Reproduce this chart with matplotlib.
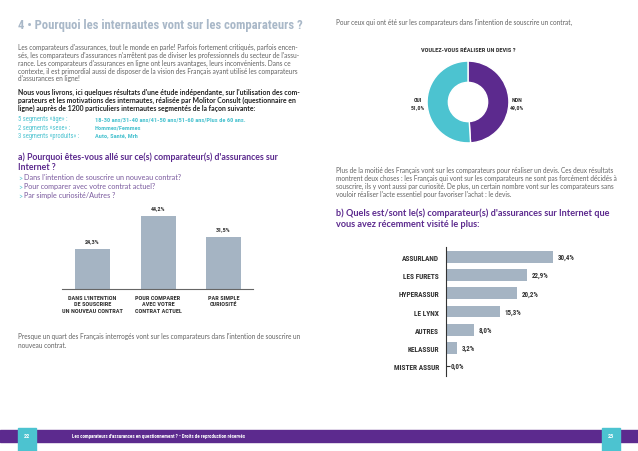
import matplotlib
matplotlib.use("Agg")
import matplotlib.pyplot as plt
from matplotlib import font_manager
import numpy as np

# ---- donnees ----
raisons = ["DANS L'INTENTION\nDE SOUSCRIRE\nUN NOUVEAU CONTRAT",
           "POUR COMPARER\nAVEC VOTRE\nCONTRAT ACTUEL",
           "PAR SIMPLE\nCURIOSITÉ"]
raisons_pct = [24.3, 44.2, 31.5]

devis_labels = ["NON", "OUI"]
devis_pct = [49.0, 51.0]

comparateurs = ["ASSURLAND", "LES FURETS", "HYPERASSUR", "LE LYNX",
                "AUTRES", "KELASSUR", "MISTER ASSUR"]
comparateurs_pct = [30.4, 22.9, 20.2, 15.3, 8.0, 3.2, 0.0]

# couleurs
GRIS_BLEU = "#a5b4c3"
TITRE = "#a9b8c8"
VIOLET = "#5c2a8e"
CYAN = "#4cc3d0"
TEXTE = "#626262"
FONCE = "#333333"

# police etroite si dispo
noms = {f.name for f in font_manager.fontManager.ttflist}
etroites = [n for n in ["Liberation Sans Narrow", "DejaVu Sans Condensed",
                        "Roboto Condensed", "Open Sans Condensed"] if n in noms]
if etroites:
    NARROW = [etroites[0], "DejaVu Sans"]
    k = 1.0
else:
    NARROW = ["Liberation Sans", "DejaVu Sans"]
    k = 0.85

W, H = 638, 452
BODY = ["Lato", "DejaVu Sans"]

fig = plt.figure(figsize=(W / 100, H / 100), dpi=100)
fig.patch.set_facecolor("white")


def fx(x):
    return x / W


def fy(y):
    return 1 - y / H


def txt(x, y, s, **kw):
    kw.setdefault("va", "center")
    fig.text(fx(x), fy(y), s, **kw)


def ax_px(x0, y0, x1, y1):
    return fig.add_axes([fx(x0), fy(y1), (x1 - x0) / W, (y1 - y0) / H])


def fmt(v):
    return ("%.1f%%" % v).replace(".", ",")


# ---- page gauche ----
txt(18, 25, "4 • Pourquoi les internautes vont sur les comparateurs ?",
    family=NARROW, weight="bold", fontsize=9.1 * k, color=TITRE)

para1 = [
    "Les comparateurs d'assurances, tout le monde en parle! Parfois fortement critiqués, parfois encen-",
    "sés, les comparateurs d'assurances n'arrêtent pas de diviser les professionnels du secteur de l'assu-",
    "rance. Les comparateurs d'assurances en ligne ont leurs avantages, leurs inconvénients. Dans ce",
    "contexte, il est primordial aussi de disposer de la vision des Français ayant utilisé les comparateurs",
    "d'assurances en ligne!",
]
for i, l in enumerate(para1):
    txt(18, 47 + 8 * i, l, family=BODY, fontsize=4.7, color=TEXTE)

para2 = [
    "Nous vous livrons, ici quelques résultats d'une étude indépendante, sur l'utilisation des com-",
    "parateurs et les motivations des internautes, réalisée par Molitor Consult (questionnaire en",
    "ligne) auprès de 1200 particuliers internautes segmentés de la façon suivante:",
]
for i, l in enumerate(para2):
    txt(18, 92 + 8 * i, l, family=BODY, weight="bold", fontsize=4.95, color="#222222")

segs = [("5 segments «âge» :", "18-30 ans/31-40 ans/41-50 ans/51-60 ans/Plus de 60 ans."),
        ("2 segments «sexe» :", "Hommes/Femmes"),
        ("3 segments «produits» :", "Auto, Santé, Mrh")]
for i, (a, b) in enumerate(segs):
    txt(18, 120 + 8 * i, a, family=NARROW, fontsize=4.7 * k, color=CYAN)
    txt(95, 120 + 8 * i, b, family=NARROW, weight="bold", fontsize=4.6 * k, color=CYAN)

txt(18, 157, "a) Pourquoi êtes-vous allé sur ce(s) comparateur(s) d'assurances sur",
    family=BODY, weight="bold", fontsize=6.3, color=VIOLET)
txt(18, 168, "Internet ?", family=BODY, weight="bold", fontsize=6.3, color=VIOLET)

puces = ["Dans l'intention de souscrire un nouveau contrat?",
         "Pour comparer avec votre contrat actuel?",
         "Par simple curiosité/Autres ?"]
for i, l in enumerate(puces):
    txt(18, 178 + 9 * i, ">", family=BODY, fontsize=5, color=CYAN)
    txt(24, 178 + 9 * i, l, family=BODY, fontsize=5.2, color="#7a5a9e")

# graphique a)
ax1 = ax_px(62, 200, 253, 290)
x = np.arange(len(raisons))
ax1.bar(x, raisons_pct, width=0.534, color=GRIS_BLEU, zorder=2)
for xi, v in zip(x, raisons_pct):
    ax1.text(xi, v + 3.5, fmt(v), ha="center", va="bottom",
             family=NARROW, weight="bold", fontsize=4.4 * k, color=FONCE)
ax1.set_xlim(-0.466, 2.45)
ax1.set_ylim(0, 54.5)
ax1.set_xticks(x)
ax1.set_xticklabels(raisons, family=NARROW, weight="bold", fontsize=4.5 * k,
                    color=FONCE, linespacing=1.45)
ax1.tick_params(axis="x", length=0, pad=4)
ax1.set_yticks([])
for s in ["top", "right", "left"]:
    ax1.spines[s].set_visible(False)
ax1.spines["bottom"].set_color("#666666")
ax1.spines["bottom"].set_linewidth(0.8)
ax1.patch.set_alpha(0)

txt(18, 337, "Presque un quart des Français interrogés vont sur les comparateurs dans l'intention de souscrire un",
    family=BODY, fontsize=4.7, color=TEXTE)
txt(18, 345, "nouveau contrat.", family=BODY, fontsize=4.7, color=TEXTE)

# ---- page droite ----
txt(336, 22, "Pour ceux qui ont été sur les comparateurs dans l'intention de souscrire un contrat,",
    family=BODY, fontsize=4.7, color=TEXTE)
txt(468, 50, "VOULEZ-VOUS RÉALISER UN DEVIS ?", ha="center",
    family=NARROW, weight="bold", fontsize=4.6 * k, color=FONCE)

ax2 = ax_px(423, 58, 513, 148)
ax2.pie(devis_pct, colors=[VIOLET, CYAN], startangle=90, counterclock=False,
        radius=1.0, wedgeprops=dict(width=0.52, edgecolor="white", linewidth=1))
ax2.set_xlim(-1.1, 1.1)
ax2.set_ylim(-1.1, 1.1)
ax2.set_aspect("equal")
ax2.axis("off")

for xx, lab, v in [(418, devis_labels[1], devis_pct[1]), (517, devis_labels[0], devis_pct[0])]:
    txt(xx, 100, lab, ha="center", family=NARROW, weight="bold", fontsize=4.2 * k, color=FONCE)
    txt(xx, 108, fmt(v), ha="center", family=NARROW, weight="bold", fontsize=4.2 * k, color=FONCE)

para3 = [
    "Plus de la moitié des Français vont sur les comparateurs pour réaliser un devis. Ces deux résultats",
    "montrent deux choses : les Français qui vont sur les comparateurs ne sont pas forcément décidés à",
    "souscrire, ils y vont aussi par curiosité. De plus, un certain nombre vont sur les comparateurs sans",
    "vouloir réaliser l'acte essentiel pour favoriser l'achat : le devis.",
]
for i, l in enumerate(para3):
    txt(336, 170 + 8 * i, l, family=BODY, fontsize=4.7, color=TEXTE)

txt(336, 213, "b) Quels est/sont le(s) comparateur(s) d'assurances sur Internet que",
    family=BODY, weight="bold", fontsize=6.6, color=VIOLET)
txt(336, 225, "vous avez récemment visité le plus:",
    family=BODY, weight="bold", fontsize=6.6, color=VIOLET)

# graphique b)
ax3 = ax_px(446, 248, 600, 377)
y = np.arange(len(comparateurs))
ax3.barh(y, comparateurs_pct, height=0.66, color=GRIS_BLEU, zorder=2)
for yi, v in zip(y, comparateurs_pct):
    ax3.text(v + 1.4, yi, fmt(v), va="center", ha="left",
             family=NARROW, weight="bold", fontsize=5.0 * k, color=FONCE)
ax3.set_ylim(6.55, -0.55)
ax3.set_xlim(0, 43.75)
ax3.set_yticks(y)
ax3.set_yticklabels(comparateurs, family=NARROW, weight="bold", fontsize=5.3 * k, color=FONCE)
ax3.tick_params(axis="y", direction="in", length=3, width=0.8, pad=5, color="#333333")
ax3.set_xticks([])
for s in ["top", "right", "bottom"]:
    ax3.spines[s].set_visible(False)
ax3.spines["left"].set_color("#333333")
ax3.spines["left"].set_linewidth(0.8)
ax3.spines["left"].set_zorder(3)
ax3.patch.set_alpha(0)

# ---- bandeau bas ----
fig.patches.append(plt.Rectangle((0, fy(443)), 1, 12 / H, transform=fig.transFigure,
                                 color=VIOLET, zorder=0))
fig.patches.append(plt.Rectangle((fx(18), fy(452)), 18 / W, 23 / H, transform=fig.transFigure,
                                 color=CYAN, zorder=1))
fig.patches.append(plt.Rectangle((fx(602), fy(452)), 18 / W, 23 / H, transform=fig.transFigure,
                                 color=CYAN, zorder=1))
txt(27, 437, "22", ha="center", family=NARROW, weight="bold", fontsize=4.5 * k, color="white")
txt(611, 437, "23", ha="center", family=NARROW, weight="bold", fontsize=4.5 * k, color="white")
txt(72, 437, "Les comparateurs d'assurances en questionnement ? • Droits de reproduction réservés",
    family=NARROW, weight="bold", fontsize=3.6 * k, color="white")

fig.savefig("out.png", dpi=100)
